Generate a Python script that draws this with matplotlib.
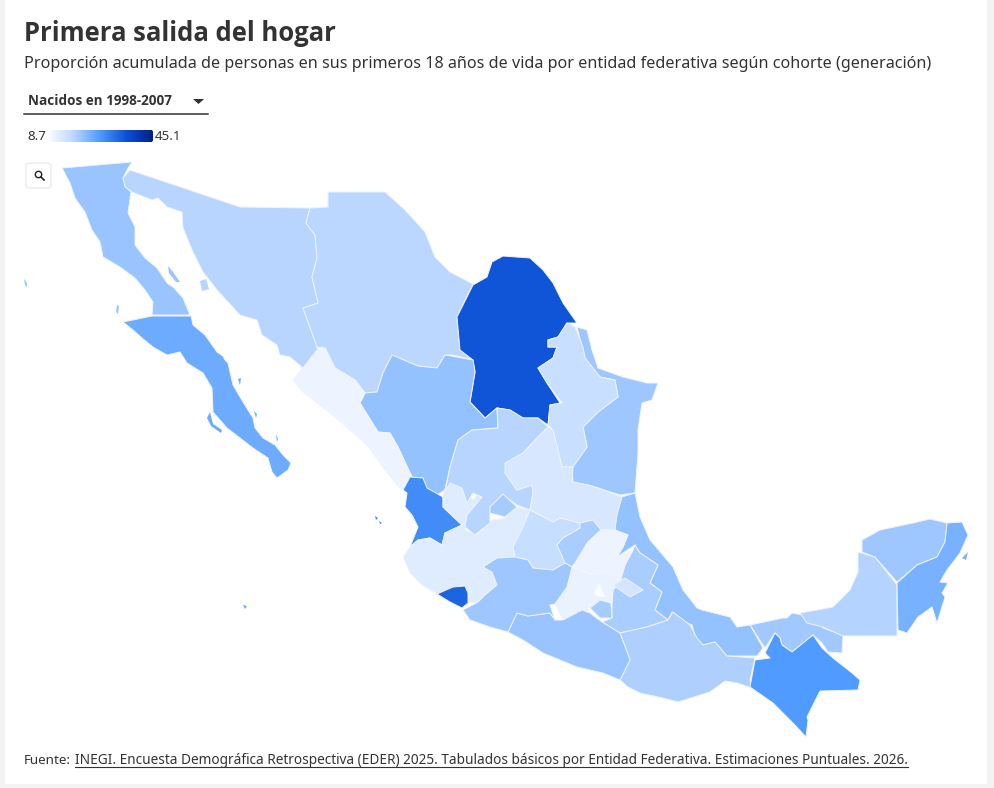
import matplotlib
matplotlib.use("Agg")
import matplotlib.pyplot as plt
import numpy as np
from matplotlib import font_manager as fm
from matplotlib.ft2font import FT2Font
from matplotlib.colors import LinearSegmentedColormap, Normalize
from matplotlib.patches import Polygon, FancyBboxPatch, Rectangle, Circle

TITLE = "Primera salida del hogar"
SUBTITLE = "Proporción acumulada de personas en sus primeros 18 años de vida por entidad federativa según cohorte (generación)"
SELECTOR = "Nacidos en 1998-2007"
SOURCE_LEAD = "Fuente: "
SOURCE_LINK = "INEGI. Encuesta Demográfica Retrospectiva (EDER) 2025. Tabulados básicos por Entidad Federativa. Estimaciones Puntuales. 2026."
VMIN, VMAX = 8.7, 45.1

# Values per state
STATES = ["Baja California", "Baja California Sur", "Sonora", "Chihuahua", "Coahuila", "Tamaulipas", "Nuevo León",
          "Durango", "Sinaloa", "Nayarit", "Jalisco", "Colima", "Zacatecas", "Aguascalientes", "San Luis Potosí",
          "Guanajuato", "Querétaro", "Veracruz", "Puebla", "Hidalgo", "México", "Morelos", "Tlaxcala", "Ciudad de México",
          "Oaxaca", "Guerrero", "Michoacán", "Tabasco", "Chiapas", "Campeche", "Yucatán", "Quintana Roo"]
VALUES = [20.7, 24.4, 18.2, 17.8, 35.3, 20.3, 16.0,
          21.1, 11.2, 28.7, 13.1, 33.5, 18.2, 19.6, 14.2,
          16.3, 19.3, 21.1, 19.3, 11.2, 11.6, 19.6, 14.5, 9.4,
          18.9, 20.7, 20.3, 20.0, 26.9, 18.5, 20.3, 23.6]

# State outlines, in projected map units
BC = [(62,168),(132,162),(127,170),(123,178),(126,187),(131,192),(128,213),(135,227),(135,245),(145,258),(157,268),(167,283),(173,287),(183,298),(190,315),(152,315),(153,302),(145,290),(135,278),(120,267),(103,257),(100,242),(92,230),(85,212),(75,198),(70,183)]
BCS = [(123,322),(152,316),(191,316),(193,325),(205,335),(217,352),(228,363),(233,385),(243,402),(253,418),(255,428),(263,438),(275,445),(283,455),(291,463),(288,470),(277,478),(272,472),(268,458),(253,448),(227,428),(213,412),(212,388),(203,373),(187,363),(180,352),(167,355),(153,347),(142,338),(133,330)]
SON = [(130,170),(240,207),(310,208),(306,223),(315,235),(317,258),(312,277),(318,303),(303,308),(317,347),(318,352),(303,368),(290,357),(280,355),(277,345),(262,335),(257,320),(240,315),(217,290),(203,272),(193,252),(183,228),(182,212),(167,207),(158,198),(152,200),(132,192),(125,187),(123,178)]
CHH = [(310,208),(328,207),(328,192),(385,192),(405,210),(425,232),(435,257),(450,272),(473,284),(465,300),(457,318),(460,350),(473,360),(453,355),(445,355),(437,368),(418,366),(392,355),(383,373),(377,392),(365,393),(355,380),(335,368),(325,348),(317,347),(303,308),(318,303),(312,277),(317,258),(315,235),(306,223)]
COA = [(503,256),(530,258),(543,270),(553,283),(563,303),(577,323),(567,323),(558,337),(548,340),(548,347),(557,347),(553,358),(538,368),(547,383),(560,403),(550,405),(548,425),(538,418),(523,418),(510,410),(497,408),(485,418),(470,402),(475,372),(473,360),(460,350),(457,317),(473,285),(487,277),(492,262)]
TAM = [(577,327),(587,330),(592,350),(598,368),(623,377),(647,383),(658,383),(652,400),(642,403),(638,430),(638,453),(635,493),(620,495),(598,488),(588,485),(573,482),(572,467),(587,447),(583,427),(598,412),(618,397),(615,380),(600,377),(585,358)]
NLE = [(538,368),(553,358),(557,347),(548,347),(548,340),(558,337),(567,323),(575,327),(583,347),(585,358),(600,377),(615,380),(618,397),(598,412),(583,427),(587,447),(573,467),(562,467),(553,430),(548,425),(550,405),(562,403),(547,383)]
DUR = [(392,355),(418,366),(437,368),(445,355),(473,360),(475,372),(470,402),(485,418),(497,408),(498,428),(472,430),(458,440),(450,467),(445,490),(437,495),(425,487),(423,478),(412,477),(398,447),(390,433),(378,432),(360,403),(365,393),(377,392),(383,373)]
SIN = [(293,380),(303,368),(317,350),(325,348),(335,368),(355,380),(365,393),(360,403),(378,432),(390,433),(398,447),(412,477),(402,490),(397,485),(385,470),(367,445),(350,430),(330,413),(303,392)]
NAY = [(410,477),(423,478),(427,488),(443,497),(443,507),(462,525),(445,533),(442,545),(430,538),(418,540),(410,547),(418,527),(412,515),(405,507),(407,493),(403,490)]
JAL = [(403,557),(410,547),(418,540),(430,538),(442,545),(445,533),(462,525),(443,507),(443,495),(447,483),(458,483),(467,493),(473,500),(478,493),(482,500),(468,513),(465,530),(477,535),(492,520),(505,518),(517,507),(530,510),(523,527),(513,547),(515,557),(497,558),(483,567),(492,572),(497,585),(485,595),(478,602),(468,603),(468,593),(465,586),(453,587),(437,594),(422,585),(410,573)]
COL = [(437,594),(453,587),(465,586),(468,593),(468,603),(462,608),(450,602)]
ZAC = [(472,430),(498,428),(497,408),(510,410),(523,418),(538,418),(548,427),(538,437),(523,453),(507,463),(505,473),(517,490),(532,485),(533,493),(530,510),(517,505),(503,495),(490,507),(490,523),(475,535),(465,527),(467,515),(482,497),(473,493),(467,503),(462,488),(450,483),(445,492),(450,467),(458,440)]
AGS = [(490,507),(503,494),(517,507),(505,517),(490,513)]
SLP = [(505,463),(523,453),(538,437),(548,427),(553,430),(562,467),(573,467),(572,482),(588,485),(598,488),(622,497),(617,515),(615,530),(601,530),(593,520),(580,523),(560,518),(553,522),(530,510),(533,493),(532,485),(517,490),(505,473)]
GUA = [(530,510),(553,522),(560,518),(580,523),(580,528),(563,538),(557,545),(565,563),(553,570),(533,568),(528,560),(515,557),(513,547),(523,527)]
QUE = [(580,523),(593,520),(601,530),(588,542),(577,560),(572,567),(565,563),(557,545),(563,538),(580,528)]
VER = [(622,497),(635,493),(640,517),(650,540),(673,567),(683,590),(697,608),(702,610),(730,617),(737,627),(750,625),(763,648),(757,656),(727,656),(715,642),(703,645),(697,643),(692,625),(685,622),(672,612),(668,620),(655,610),(662,592),(650,583),(658,565),(640,553),(635,545),(617,557),(623,547),(628,535),(615,530),(617,515)]
PUE = [(635,545),(640,553),(658,565),(650,583),(662,592),(655,610),(668,620),(647,627),(620,633),(602,622),(612,618),(612,603),(613,590),(620,582),(625,565),(633,550)]
HID = [(601,530),(615,530),(628,535),(623,547),(617,557),(633,550),(625,565),(620,582),(607,573),(590,573),(575,567),(577,560),(588,542)]
MEX = [(572,567),(590,575),(607,573),(620,582),(613,590),(612,603),(600,600),(590,608),(588,611),(580,610),(563,620),(555,604),(567,587)]
MOR = [(590,608),(600,600),(611,603),(612,618),(600,618)]
TLA = [(613,585),(625,578),(643,590),(630,597)]
CMX = [(593,593),(599,583),(606,597),(597,597)]
OAX = [(620,633),(647,627),(668,620),(673,612),(690,625),(697,638),(703,645),(715,642),(727,656),(755,658),(750,680),(752,688),(737,683),(725,681),(710,692),(678,702),(663,698),(640,693),(628,687),(620,680),(630,660)]
GRO = [(508,632),(517,613),(528,616),(550,613),(555,620),(563,620),(582,610),(590,613),(602,622),(620,633),(630,660),(620,680),(603,673),(577,667),(543,653),(523,640)]
MIC = [(463,610),(478,602),(485,595),(497,585),(492,572),(483,567),(497,558),(515,557),(528,560),(533,568),(553,570),(565,563),(572,567),(567,587),(555,604),(550,605),(555,620),(550,613),(528,616),(517,613),(508,632),(490,627),(470,620)]
TAB = [(750,625),(783,618),(787,618),(792,613),(813,617),(823,628),(843,635),(842,653),(828,652),(822,643),(813,635),(792,652),(782,645),(780,638),(775,633),(765,648)]
CHP = [(775,633),(780,638),(782,645),(792,652),(813,635),(822,648),(833,658),(852,673),(860,680),(858,690),(820,691),(807,717),(808,720),(806,737),(793,723),(773,703),(750,687),(755,660),(770,658),(765,653)]
CAM = [(858,552),(875,557),(897,585),(897,636),(843,636),(823,627),(807,623),(800,613),(817,610),(833,607),(850,590),(858,572)]
YUC = [(862,552),(862,540),(880,530),(913,523),(930,519),(947,523),(945,542),(937,557),(917,565),(897,582),(875,557)]
ROO = [(947,523),(962,522),(968,535),(960,553),(947,570),(940,582),(948,583),(942,593),(945,597),(937,623),(932,607),(918,617),(907,633),(898,630),(897,583),(917,565),(937,557),(945,542)]

OUTLINES = [BC, BCS, SON, CHH, COA, TAM, NLE, DUR, SIN, NAY, JAL, COL, ZAC, AGS, SLP, GUA, QUE, VER, PUE, HID, MEX, MOR, TLA, CMX, OAX, GRO, MIC, TAB, CHP, CAM, YUC, ROO]

# Islands: (state index, outline)
ISLANDS = [
    (0, [(24,279),(27,283),(27,287),(25,285)]),
    (0, [(117,305),(119,306),(118,314),(116,312)]),
    (0, [(168,266),(173,272),(180,282),(176,282),(169,273)]),
    (2, [(200,281),(206,279),(209,289),(202,291)]),
    (1, [(218,353),(223,357),(225,362),(221,361)]),
    (1, [(238,379),(241,378),(240,385)]),
    (1, [(254,411),(257,414),(256,418)]),
    (1, [(276,434),(278,439),(277,442)]),
    (1, [(207,418),(210,412),(213,424),(222,430),(221,433),(211,426)]),
    (9, [(375,516),(378,518),(376,520)]),
    (9, [(379,521),(382,523),(380,524)]),
    (1, [(243,605),(247,606),(245,609)]),
    (31, [(962,558),(968,552),(966,560)]),
]

cmap = LinearSegmentedColormap.from_list("blues_map", [(0, "#ffffff"), (0.25, "#bbd7ff"), (0.5, "#4f9bff"), (0.75, "#0b50d5"), (1, "#001f8a")])
norm = Normalize(VMIN, VMAX)

# Pick a family with a real bold face
BOLD_FAMILY = "DejaVu Sans"
for fam in ["Open Sans", "Noto Sans", "Inter", "Roboto", "Lato", "Liberation Sans"]:
    try:
        path = fm.findfont(fm.FontProperties(family=fam, weight="bold"), fallback_to_default=False)
        if "Bold" in FT2Font(path).style_name:
            BOLD_FAMILY = fam
            break
    except Exception:
        pass

plt.rcParams["font.family"] = ["Noto Sans", "DejaVu Sans"]
INK = "#333333"
fig = plt.figure(figsize=(9.94, 7.88), dpi=100, facecolor="white")
ax = fig.add_axes([0, 0, 1, 1])
ax.set_xlim(0, 994)
ax.set_ylim(788, 0)
ax.axis("off")
renderer = fig.canvas.get_renderer()


def fit_text(x, y, s, x_end, size, **kw):
    """Place text and scale its size so that it ends at x_end."""
    t = ax.text(x, y, s, fontsize=size, color=INK, va="center", ha="left", **kw)
    for _ in range(4):
        w = t.get_window_extent(renderer).width
        t.set_fontsize(t.get_fontsize() * (x_end - x) / w)
    return t


# Page frame
for x, y, w, h in [(0, 0, 5, 788), (987, 0, 7, 788), (0, 784, 994, 4)]:
    ax.add_patch(Rectangle((x, y), w, h, fc="#f3f3f3", ec="none", zorder=0))

for name, outline, val in zip(STATES, OUTLINES, VALUES):
    ax.add_patch(Polygon(outline, closed=True, fc=cmap(norm(val)), ec="#eef4ff", lw=0.7, joinstyle="round", zorder=2))
for idx, outline in ISLANDS:
    ax.add_patch(Polygon(outline, closed=True, fc=cmap(norm(VALUES[idx])), ec="none", zorder=2))

fit_text(24, 33, TITLE, 336, 20, family=BOLD_FAMILY, fontweight="bold")
fit_text(24, 64, SUBTITLE, 931, 12)

# Selector
fit_text(28, 101, SELECTOR, 172, 9.6, family=BOLD_FAMILY, fontweight="bold")
ax.add_patch(Polygon([(193, 99), (204, 99), (198.5, 104)], closed=True, fc=INK, ec="none"))
ax.plot([24, 208], [113.5, 113.5], color=INK, lw=1.1)

# Colour legend
ax.text(27, 136, f"{VMIN}", fontsize=9.6, color=INK, va="center", ha="left")
ax.text(155, 136, f"{VMAX}", fontsize=9.6, color=INK, va="center", ha="left")
grad = np.linspace(0, 1, 256).reshape(1, -1)
im = ax.imshow(grad, cmap=cmap, extent=(47, 153, 142, 130), aspect="auto", zorder=2)
clip = FancyBboxPatch((47, 130), 106, 12, boxstyle="round,pad=0,rounding_size=2", transform=ax.transData)
im.set_clip_path(clip)
ax.set_xlim(0, 994)
ax.set_ylim(788, 0)

# Zoom button
ax.add_patch(FancyBboxPatch((26, 163), 25, 25, boxstyle="round,pad=0,rounding_size=3", fc="white", ec="#ebebeb", lw=1, zorder=4))
ax.add_patch(Circle((38.5, 174.5), 3.2, fc="none", ec="#222222", lw=1.0, zorder=5))
ax.plot([41, 44], [177, 180], color="#222222", lw=1.2, zorder=5)

# Source
fit_text(24, 760, SOURCE_LEAD.strip(), 71, 9.7)
fit_text(75, 760, SOURCE_LINK, 908, 9.7)
ax.plot([75, 908], [767, 767], color=INK, lw=0.8)

fig.savefig("out.png", dpi=100)
